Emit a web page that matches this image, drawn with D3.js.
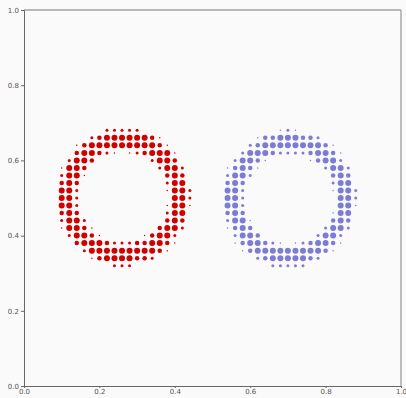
<!DOCTYPE html>
<html>
<head>
<meta charset="utf-8">
<script src="https://cdn.jsdelivr.net/npm/d3@7"></script>
<style>
  html, body { margin: 0; padding: 0; background: #fafafa; }
  svg { display: block; }
  .tick text { font-family: "DejaVu Sans", sans-serif; }
</style>
</head>
<body>
<div id="chart"></div>
<script>
// Grid coordinates (data units)
const rowYs = [0.68,0.66,0.64,0.62,0.60,0.58,0.56,0.54,0.52,0.50,0.48,0.46,0.44,0.42,0.40,0.38,0.36,0.34,0.32];
const redXs = [0.10,0.12,0.14,0.16,0.18,0.20,0.22,0.24,0.26,0.28,0.30,0.32,0.34,0.36,0.38,0.40,0.42,0.44];
const blueXs = [0.54,0.56,0.58,0.60,0.62,0.64,0.66,0.68,0.70,0.72,0.74,0.76,0.78,0.80,0.82,0.84,0.86,0.88];

// Marker size level per grid cell (rows top to bottom, 18 columns)
const redSizes = [
  [0,0,0,0,0,0,2,2,2,2,2,0,0,0,0,0,0,0],
  [0,0,0,0,2,3,4,4,4,4,4,4,3,1,0,0,0,0],
  [0,0,1,3,4,4,4,4,4,4,4,4,4,3,1,0,0,0],
  [0,0,3,4,4,3,2,1,0,1,2,3,4,4,4,1,0,0],
  [0,2,4,4,3,0,0,0,0,0,0,0,2,4,4,3,0,0],
  [1,4,4,3,0,0,0,0,0,0,0,0,0,2,4,4,2,0],
  [2,4,4,1,0,0,0,0,0,0,0,0,0,0,3,4,3,0],
  [3,4,3,0,0,0,0,0,0,0,0,0,0,0,2,4,4,0],
  [4,4,2,0,0,0,0,0,0,0,0,0,0,0,1,4,4,2],
  [4,4,2,0,0,0,0,0,0,0,0,0,0,0,0,4,4,2],
  [4,4,2,0,0,0,0,0,0,0,0,0,0,0,1,4,4,1],
  [3,4,3,0,0,0,0,0,0,0,0,0,0,0,2,4,4,0],
  [2,4,4,2,0,0,0,0,0,0,0,0,0,0,3,4,3,0],
  [1,4,4,3,1,0,0,0,0,0,0,0,0,3,4,4,2,0],
  [0,2,4,4,3,1,0,0,0,0,0,1,3,4,4,2,0,0],
  [0,0,3,4,4,4,3,2,2,2,3,3,4,4,3,1,0,0],
  [0,0,0,2,4,4,4,4,4,4,4,4,4,3,1,0,0,0],
  [0,0,0,0,1,3,4,4,4,4,3,3,2,0,0,0,0,0],
  [0,0,0,0,0,0,0,2,2,2,0,0,0,0,0,0,0,0]
];
const blueSizes = [
  [0,0,0,0,0,0,0,1,2,1,0,0,0,0,0,0,0,0],
  [0,0,0,0,1,3,3,4,4,4,3,3,2,0,0,0,0,0],
  [0,0,0,2,3,4,4,4,4,4,4,4,4,3,1,0,0,0],
  [0,0,2,4,4,4,3,2,2,2,2,3,4,4,3,1,0,0],
  [0,2,4,4,3,1,0,0,0,0,0,1,3,4,4,2,0,0],
  [1,3,4,3,1,0,0,0,0,0,0,0,0,2,4,4,2,0],
  [2,4,4,2,0,0,0,0,0,0,0,0,0,0,3,4,3,0],
  [3,4,3,0,0,0,0,0,0,0,0,0,0,0,2,4,4,0],
  [4,4,2,0,0,0,0,0,0,0,0,0,0,0,1,4,4,2],
  [4,4,2,0,0,0,0,0,0,0,0,0,0,0,0,4,4,2],
  [4,4,2,0,0,0,0,0,0,0,0,0,0,0,0,4,4,1],
  [3,4,3,0,0,0,0,0,0,0,0,0,0,0,1,4,4,0],
  [2,4,4,1,0,0,0,0,0,0,0,0,0,0,3,4,3,0],
  [1,3,4,3,0,0,0,0,0,0,0,0,0,2,4,4,2,0],
  [0,2,4,4,3,0,0,0,0,0,0,0,2,4,4,2,0,0],
  [0,1,3,4,4,3,2,1,0,1,2,3,4,4,3,1,0,0],
  [0,0,1,3,4,4,4,4,4,4,4,4,4,3,1,0,0,0],
  [0,0,0,0,2,3,4,4,4,4,4,3,2,0,0,0,0,0],
  [0,0,0,0,0,0,2,2,2,2,2,0,0,0,0,0,0,0]
];
const tickValues = [0.0, 0.2, 0.4, 0.6, 0.8, 1.0];
const seriesColors = { red: "#cf0000", blue: "#7c7cd6" };

const W = 406, H = 398;
const margin = { top: 10, right: 5, bottom: 12, left: 24 };

const svg = d3.select("#chart").append("svg")
  .attr("width", W).attr("height", H)
  .style("background", "#fafafa");

const x = d3.scaleLinear().domain([0, 1]).range([margin.left, W - margin.right]);
const y = d3.scaleLinear().domain([0, 1]).range([H - margin.bottom, margin.top]);
const r = d3.scaleLinear().domain([0, 4]).range([0, 3.0]);

function toPoints(xs, sizes) {
  const pts = [];
  sizes.forEach((row, i) => row.forEach((s, j) => {
    if (s > 0) pts.push({ x: xs[j], y: rowYs[i], s });
  }));
  return pts;
}

// frame: top and right borders
svg.append("line")
  .attr("x1", x(0)).attr("x2", x(1)).attr("y1", y(1)).attr("y2", y(1))
  .attr("stroke", "#777").attr("stroke-width", 1);
svg.append("line")
  .attr("x1", x(1)).attr("x2", x(1)).attr("y1", y(1)).attr("y2", y(0))
  .attr("stroke", "#aaa").attr("stroke-width", 1.5);

const fmt = d3.format(".1f");
const xAxis = svg.append("g")
  .attr("transform", `translate(0,${y(0)})`)
  .call(d3.axisBottom(x).tickValues(tickValues).tickFormat(fmt).tickSize(2).tickPadding(1));
const yAxis = svg.append("g")
  .attr("transform", `translate(${x(0)},0)`)
  .call(d3.axisLeft(y).tickValues(tickValues).tickFormat(fmt).tickSize(3).tickPadding(2));

[xAxis, yAxis].forEach(g => {
  g.select(".domain").attr("stroke", "#666");
  g.selectAll(".tick line").attr("stroke", "#666");
  g.selectAll(".tick text").attr("fill", "#555").style("font-size", "7px");
});

const groups = [
  { pts: toPoints(redXs, redSizes), color: seriesColors.red },
  { pts: toPoints(blueXs, blueSizes), color: seriesColors.blue }
];
groups.forEach(gr => {
  svg.append("g").selectAll("circle").data(gr.pts).join("circle")
    .attr("cx", d => x(d.x))
    .attr("cy", d => y(d.y))
    .attr("r", d => r(d.s))
    .attr("fill", gr.color);
});
</script>
</body>
</html>
